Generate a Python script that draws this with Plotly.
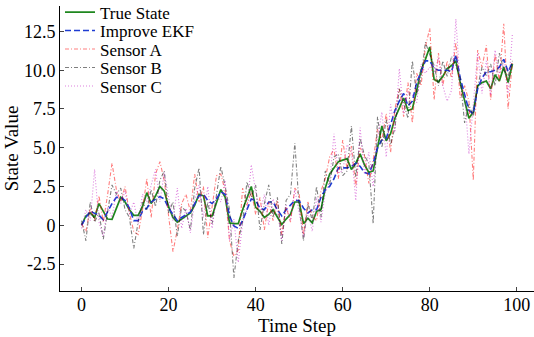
import plotly.graph_objects as go

steps = list(range(100))

true_state = [0.0, 0.6, 0.8, 0.5, 1.4, 0.9, 0.4, 0.38, 1.1, 1.8,
              1.5, 1.0, 0.64, 0.64, 1.2, 2.1, 1.4, 1.9, 2.5, 2.2,
              1.2, 0.5, 0.2, 0.4, 0.6, 0.8, 1.3, 2.0, 1.9, 0.6,
              0.6, 1.4, 2.3, 1.8, 0.15, 0.1, 0.1, 1.0, 1.8, 2.5,
              1.15, 0.9, 0.5, 0.7, 1.0, 0.5, 0.05, 0.4, 0.7, 1.5,
              1.5, 0.1, 0.45, 0.15, 0.9, 1.0, 2.4, 3.3, 3.7, 4.1,
              4.2, 4.3, 3.6, 4.0, 4.6, 3.9, 3.4, 3.5, 5.0, 6.4,
              5.45, 5.9, 6.9, 7.6, 8.2, 7.4, 7.5, 8.7, 10.0, 10.7,
              11.5, 9.4, 9.25, 9.6, 10.1, 10.3, 10.6, 9.2, 8.0, 6.9,
              7.3, 9.0, 9.2, 9.3, 8.8, 9.7, 9.3, 10.2, 9.2, 10.4]

improve_ekf = [0.0, 0.5, 0.9, 0.8, 0.65, 0.35, 0.9, 1.4, 1.8, 1.8,
               1.6, 1.1, 0.3, 0.3, 0.9, 1.1, 1.5, 1.7, 1.85, 1.7,
               1.1, 0.7, 0.3, 0.5, 0.7, 0.85, 1.4, 1.9, 2.0, 1.6,
               1.4, 1.7, 2.15, 2.0, 0.6, -0.05, -0.2, 0.3, 1.0, 1.7,
               1.6, 1.1, 1.0, 1.5, 1.5, 1.0, 0.6, 1.0, 1.3, 1.6,
               1.6, 1.1, 0.8, 1.0, 1.0, 1.8, 2.3, 2.5, 3.0, 3.7,
               3.7, 3.7, 3.8, 4.0, 3.8, 3.4, 3.3, 4.0, 5.0, 5.5,
               5.6, 6.5, 7.4, 8.0, 8.5, 7.7, 8.0, 9.2, 9.9, 10.6,
               10.6, 10.1, 10.0, 10.0, 10.0, 9.9, 11.0, 9.5, 8.5, 7.4,
               7.2, 8.8, 9.5, 9.9, 9.9, 10.0, 10.2, 10.7, 9.9, 10.5]

sensor_a = [0.1, -0.4, 1.1, 0.3, 1.9, 0.2, 2.0, 4.0, 2.3, 1.5,
            2.5, 0.8, -0.4, -0.6, 1.0, 3.0, 0.5, 3.3, 4.1, 2.9,
            0.6, -1.7, -0.3, 1.4, 2.0, 0.9, 3.3, 1.5, 2.5, -0.8,
            1.2, 3.2, 3.3, 2.2, -1.0, -2.0, -1.6, 2.4, 1.3, 2.2,
            0.7, 1.8, -0.3, 1.5, 0.3, 1.6, -0.6, 1.2, 0.2, 2.4,
            2.0, -0.6, 1.5, 0.6, 0.3, 2.2, 3.0, 4.4, 4.9, 3.0,
            5.5, 3.6, 5.1, 2.5, 5.0, 4.5, 2.7, 4.2, 6.2, 5.5,
            7.2, 4.7, 7.5, 8.8, 7.0, 9.2, 6.6, 9.8, 9.0, 11.5,
            12.7, 8.1, 11.1, 9.0, 10.6, 9.5, 11.8, 8.2, 9.0, 8.0,
            2.9, 11.3, 10.2, 11.6, 8.1, 11.0, 9.3, 13.0, 7.5, 10.6]

sensor_b = [0.3, -1.0, 1.5, 0.2, 0.8, -0.9, 0.9, 2.6, 2.0, 2.4,
            1.0, 0.5, -1.5, 0.2, 1.5, 1.0, 2.3, 1.2, 2.9, 3.5,
            0.8, 1.5, -0.7, 1.2, 0.9, -0.3, 2.4, 3.7, -0.6, 1.5,
            0.1, 2.0, 3.8, 2.5, 1.0, -3.4, -1.0, 0.2, 2.8, 1.8,
            2.6, -0.3, 1.4, 2.6, 0.5, 1.8, -1.2, 1.6, 2.0, 5.3,
            1.2, -1.0, 1.4, 0.3, 2.5, 0.5, 3.5, 2.6, 4.4, 4.6,
            3.2, 3.5, 6.4, 3.1, 5.6, 4.5, 4.0, 0.1, 7.0, 5.0,
            6.8, 5.2, 6.3, 8.8, 7.8, 6.9, 10.6, 8.4, 9.5, 11.8,
            11.0, 10.3, 9.0, 10.6, 9.6, 10.9, 10.3, 9.5, 6.6, 7.8,
            7.0, 8.9, 10.2, 9.6, 10.4, 9.0, 11.1, 10.0, 9.6, 10.6]

sensor_c = [-0.2, 1.0, 0.3, 3.6, 0.2, -0.7, 1.2, 0.5, 2.2, 1.4,
            2.2, 0.7, 1.5, 0.1, 2.0, 1.5, 2.6, 3.6, 1.5, 3.4,
            1.8, 0.3, 2.4, -0.2, 1.1, -0.5, 1.6, 2.6, 0.5, 2.5,
            -0.2, 1.9, 1.5, 2.9, -1.0, 0.4, -2.4, 0.2, 1.0, 3.9,
            2.2, 0.8, 2.0, 0.0, 1.7, 0.9, -1.0, 1.3, 0.3, 2.3,
            0.8, -0.75, 0.9, -0.4, 1.8, 0.2, 2.1, 2.8, 5.9, 3.4,
            3.5, 5.2, 4.8, 1.6, 6.3, 3.3, 4.7, 2.5, 5.6, 7.3,
            4.4, 7.8, 6.0, 10.1, 7.2, 8.6, 8.4, 7.9, 10.4, 9.8,
            10.2, 9.8, 10.8, 9.0, 8.0, 8.7, 13.3, 9.0, 8.5, 4.6,
            7.8, 11.1, 8.5, 10.6, 8.4, 11.3, 9.8, 10.5, 8.5, 12.4]

x_ticks = [0, 20, 40, 60, 80, 100]
y_ticks = [-2.5, 0, 2.5, 5.0, 7.5, 10.0, 12.5]
y_tick_text = ["-2.5", "0", "2.5", "5.0", "7.5", "10.0", "12.5"]

FONT = "Liberation Serif"
FS = 18
TITLE_FS = 19
LEG_FS = 17

# pixel geometry of the plot area
L, R, T, B = 60, 0, 6, 46
W, H = 534, 337
PH = H - T - B
PW = W - L - R

series = [
    ("True State", true_state, dict(color="rgb(30,135,30)", width=1.7)),
    ("Improve EKF", improve_ekf, dict(color="rgb(30,60,210)", width=1.6, dash="6px,3px")),
    ("Sensor A", sensor_a, dict(color="rgba(255,0,0,0.5)", width=1.1, dash="4px,2px,1px,2px")),
    ("Sensor B", sensor_b, dict(color="rgba(0,0,0,0.5)", width=1.1, dash="4px,2px,1px,2px")),
    ("Sensor C", sensor_c, dict(color="rgba(190,0,190,0.5)", width=1.1, dash="1px,2px")),
]
legend_rows_px = [12.5, 31, 49.5, 68, 86.5]

fig = go.Figure()
legend_layout = {}
for i, (name, vals, line) in enumerate(series):
    key = "legend" if i == 0 else f"legend{i + 1}"
    fig.add_trace(go.Scatter(x=steps, y=vals, mode="lines", name=name, line=line,
                             legend=key))
    legend_layout[key] = dict(
        x=0.0, y=(H - B - legend_rows_px[i]) / PH,
        xanchor="left", yanchor="middle",
        bgcolor="rgba(0,0,0,0)", borderwidth=0,
        font=dict(family=FONT, size=LEG_FS, color="black"), itemwidth=30,
    )

fig.update_layout(
    width=W, height=H,
    margin=dict(l=L, r=R, t=T, b=B, autoexpand=False),
    paper_bgcolor="white", plot_bgcolor="white",
    font=dict(family=FONT, size=FS, color="black"),
    showlegend=True,
    xaxis=dict(range=[-4.95, 103.95], tickvals=x_ticks, ticks="inside", ticklen=4,
               showline=True, linecolor="black", linewidth=1, showgrid=False, zeroline=False,
               ticklabelstandoff=-3,
               title=dict(text="Time Step", font=dict(family=FONT, size=TITLE_FS), standoff=0),
               tickfont=dict(family=FONT, size=FS)),
    yaxis=dict(range=[-4.24, 14.14], tickvals=y_ticks, ticktext=y_tick_text, ticks="inside", ticklen=4,
               showline=True, linecolor="black", linewidth=1, showgrid=False, zeroline=False,
               title=dict(text="State Value", font=dict(family=FONT, size=TITLE_FS), standoff=0),
               tickfont=dict(family=FONT, size=FS)),
    **legend_layout,
)

fig.write_html("out.html", config={"displayModeBar": False},
               post_script="document.body.style.margin='0';")
